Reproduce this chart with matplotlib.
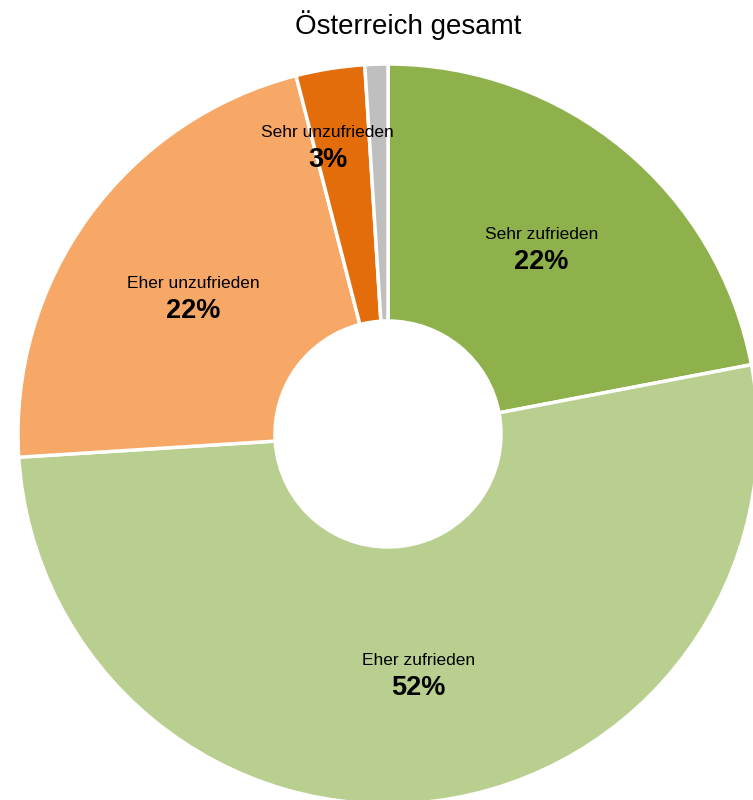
import matplotlib
matplotlib.use("Agg")
import matplotlib.pyplot as plt
import numpy as np

plt.rcParams['font.family'] = ['Liberation Sans', 'DejaVu Sans']

title = "Österreich gesamt"
categories = ["Sehr zufrieden", "Eher zufrieden", "Eher unzufrieden", "Sehr unzufrieden", "Keine Angabe"]
values = [22, 52, 22, 3, 1]
show_label = [True, True, True, True, False]
colors = ["#8EB14B", "#B9CF8F", "#F7A866", "#E36C0B", "#BFBFBF"]

W, H = 753, 800
fig = plt.figure(figsize=(W / 100, H / 100), dpi=100)
ax = fig.add_axes([0, 0, 1, 1])

cx, cy = 388, H - 434
R = 370
hole = 113

wedges, _ = ax.pie(values, colors=colors, startangle=90, counterclock=False,
                   center=(cx, cy), radius=R,
                   wedgeprops=dict(width=R - hole, edgecolor="white", linewidth=2.5))
ax.set_xlim(0, W)
ax.set_ylim(0, H)
ax.set_aspect("equal")
ax.axis("off")

label_r = {0: 0.65, 1: 0.655, 2: 0.643, 3: 0.795}
angle_shift = {2: 1.1, 3: 2.8}
for i, w in enumerate(wedges):
    if not show_label[i]:
        continue
    mid = np.deg2rad((w.theta1 + w.theta2) / 2 + angle_shift.get(i, 0))
    r = label_r.get(i, 0.65) * R
    x = cx + r * np.cos(mid)
    y = cy + r * np.sin(mid)
    ax.text(x, y + 14, categories[i], ha="center", va="center", fontsize=12.5, color="black")
    ax.text(x, y - 13.5, f"{values[i]}%", ha="center", va="center", fontsize=19.5,
            fontweight="bold", color="black")

ax.text(408, H - 25, title, ha="center", va="center", fontsize=20, color="black")

fig.savefig("out.png", dpi=100)
